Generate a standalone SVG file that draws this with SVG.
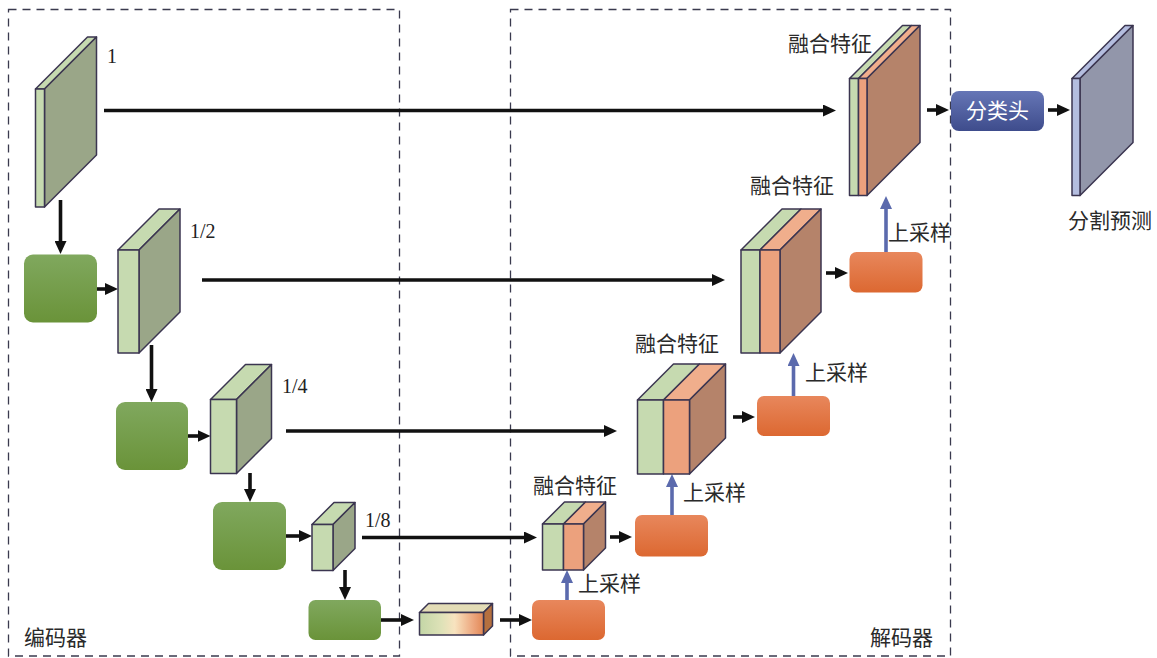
<svg xmlns="http://www.w3.org/2000/svg" width="1157" height="658" viewBox="0 0 1157 658">
<style>
.dash{fill:none;stroke:#3a3a4e;stroke-width:1.3;stroke-dasharray:8 6}
.e{stroke:#3b3550;stroke-width:1.5;stroke-linejoin:round}
.gf{fill:#c6dab0}
.gs{fill:#9aa688}
.of{fill:#eca17d}
.ot{fill:#f0ae8c}
.bs{fill:#b5836a}
.gb{fill:url(#gGreen)}
.ob{fill:url(#gOrange)}
.num{font-family:"Liberation Serif",serif;font-size:20px;fill:#222}
.zh{font-family:"Liberation Serif","Noto Sans CJK SC",serif;font-size:21px;fill:#2a2a2a}
.ar{fill:none;stroke:#111;stroke-width:3.6;marker-end:url(#ah)}
.au{fill:none;stroke:#5b6aad;stroke-width:3.6;marker-end:url(#ahb)}
</style>
<defs>
<linearGradient id="gGreen" x1="0" y1="0" x2="0" y2="1"><stop offset="0" stop-color="#80a85e"/><stop offset="1" stop-color="#6a9339"/></linearGradient>
<linearGradient id="gOrange" x1="0" y1="0" x2="0" y2="1"><stop offset="0" stop-color="#e8875c"/><stop offset="1" stop-color="#dc6831"/></linearGradient>
<linearGradient id="gBlue" x1="0" y1="0" x2="0" y2="1"><stop offset="0" stop-color="#6676b6"/><stop offset="1" stop-color="#3e4c8c"/></linearGradient>
<linearGradient id="gBott" x1="0" y1="0" x2="1" y2="0"><stop offset="0" stop-color="#c3d6a6"/><stop offset="0.35" stop-color="#dfe2b8"/><stop offset="0.55" stop-color="#f8e3bf"/><stop offset="0.85" stop-color="#eca47b"/><stop offset="1" stop-color="#e28856"/></linearGradient>
<marker id="ah" viewBox="0 0 13 12" refX="5" refY="6" markerWidth="13" markerHeight="12" markerUnits="userSpaceOnUse" orient="auto"><path d="M0,0 L13,6 L0,12 z" fill="#111"/></marker>
<marker id="ahb" viewBox="0 0 13 12" refX="5" refY="6" markerWidth="13" markerHeight="12" markerUnits="userSpaceOnUse" orient="auto"><path d="M0,0 L13,6 L0,12 z" fill="#5b6aad"/></marker>
</defs>
<rect width="1157" height="658" fill="#fff"/>
<g id="encoder-box"><rect class="dash" x="8.5" y="9.5" width="391" height="646.5"/><text class="zh" x="24" y="645">编码器</text></g>
<g id="decoder-box"><rect class="dash" x="510.5" y="9.5" width="440" height="646.5"/><text class="zh" x="870" y="645">解码器</text></g>
<g id="connectors">
<path class="ar" d="M104,110.5 H828"/>
<path class="ar" d="M60.5,200 V246"/>
<path class="ar" d="M97,289 H110"/>
<path class="ar" d="M202,280 H717"/>
<path class="ar" d="M151.5,345 V394"/>
<path class="ar" d="M188,436 H202.5"/>
<path class="ar" d="M286,431 H609"/>
<path class="ar" d="M250,473 V494"/>
<path class="ar" d="M286,536 H304"/>
<path class="ar" d="M362,537.5 H529"/>
<path class="ar" d="M345,570 V592"/>
<path class="ar" d="M381,620 H406"/>
<path class="ar" d="M500,620 H524"/>
<path class="ar" d="M610,537 H624"/>
<path class="ar" d="M733,417 H747"/>
<path class="ar" d="M826,273 H840"/>
<path class="ar" d="M927,110 H941"/>
<path class="ar" d="M1048,110 H1062"/>
<path class="au" d="M567,600 V578"/>
<path class="au" d="M672,515 V482"/>
<path class="au" d="M793.5,396 V361"/>
<path class="au" d="M886,252 V204"/>
</g>
<g id="map-1">
<polygon class="e gf" points="35.5,89 87.5,37 96.5,37 44.5,89"/>
<polygon class="e gs" points="44.5,89 96.5,37 96.5,155 44.5,207"/>
<rect class="e gf" x="35.5" y="89" width="9" height="118"/>
<text class="num" x="107" y="63">1</text>
</g>
<g id="map-1-2">
<polygon class="e gf" points="118,250 159,209 180,209 139,250"/>
<polygon class="e gs" points="139,250 180,209 180,312 139,353"/>
<rect class="e gf" x="118" y="250" width="21" height="103"/>
<text class="num" x="190" y="238">1/2</text>
</g>
<g id="map-1-4">
<polygon class="e gf" points="210.5,399.5 245.5,364.5 271.5,364.5 236.5,399.5"/>
<polygon class="e gs" points="236.5,399.5 271.5,364.5 271.5,438.5 236.5,473.5"/>
<rect class="e gf" x="210.5" y="399.5" width="26" height="74"/>
<text class="num" x="282" y="393">1/4</text>
</g>
<g id="map-1-8">
<polygon class="e gf" points="312,524.5 334,502.5 355,502.5 333,524.5"/>
<polygon class="e gs" points="333,524.5 355,502.5 355,548.5 333,570.5"/>
<rect class="e gf" x="312" y="524.5" width="21" height="46"/>
<text class="num" x="365" y="527">1/8</text>
</g>
<g id="enc-block-1"><rect class="gb" x="24" y="254.5" width="73" height="68" rx="9"/></g>
<g id="enc-block-2"><rect class="gb" x="116" y="402" width="72" height="68" rx="9"/></g>
<g id="enc-block-3"><rect class="gb" x="213" y="502" width="73" height="68" rx="9"/></g>
<g id="enc-block-4"><rect class="gb" x="308.5" y="600" width="72.5" height="40" rx="7"/></g>
<g id="bottleneck">
<polygon class="e" fill="#e3dcb6" points="419.5,612.5 428.5,603.5 492.5,603.5 483.5,612.5"/>
<polygon class="e" fill="#b5703f" points="483.5,612.5 492.5,603.5 492.5,626 483.5,635"/>
<rect class="e" fill="url(#gBott)" x="419.5" y="612.5" width="64" height="22.5"/>
</g>
<g id="up-block-1"><rect class="ob" x="532" y="600" width="73" height="40" rx="7"/><text class="zh" x="578" y="591">上采样</text></g>
<g id="up-block-2"><rect class="ob" x="635" y="515" width="73" height="41.5" rx="7"/><text class="zh" x="683" y="500">上采样</text></g>
<g id="up-block-3"><rect class="ob" x="757" y="396" width="73" height="40" rx="7"/><text class="zh" x="805" y="380">上采样</text></g>
<g id="up-block-4"><rect class="ob" x="849.5" y="252" width="73" height="40.5" rx="7"/><text class="zh" x="888" y="240">上采样</text></g>
<g id="fused-1-8">
<polygon class="e gf" points="542.5,524 564.5,502 585.5,502 563.5,524"/>
<polygon class="e ot" points="563.5,524 585.5,502 605.5,502 583.5,524"/>
<polygon class="e bs" points="583.5,524 605.5,502 605.5,548 583.5,570"/>
<rect class="e gf" x="542.5" y="524" width="21" height="46"/>
<rect class="e of" x="563.5" y="524" width="20" height="46"/>
<text class="zh" x="533" y="493">融合特征</text>
</g>
<g id="fused-1-4">
<polygon class="e gf" points="637.5,400 673.5,364 699.5,364 663.5,400"/>
<polygon class="e ot" points="663.5,400 699.5,364 725.5,364 689.5,400"/>
<polygon class="e bs" points="689.5,400 725.5,364 725.5,438 689.5,474"/>
<rect class="e gf" x="637.5" y="400" width="26" height="74"/>
<rect class="e of" x="663.5" y="400" width="26" height="74"/>
<text class="zh" x="635" y="351">融合特征</text>
</g>
<g id="fused-1-2">
<polygon class="e gf" points="741,250 782,209 801,209 760,250"/>
<polygon class="e ot" points="760,250 801,209 821,209 780,250"/>
<polygon class="e bs" points="780,250 821,209 821,312 780,353"/>
<rect class="e gf" x="741" y="250" width="19" height="103"/>
<rect class="e of" x="760" y="250" width="20" height="103"/>
<text class="zh" x="750" y="193">融合特征</text>
</g>
<g id="fused-1">
<polygon class="e gf" points="849.5,78.5 902.5,25.5 911.5,25.5 858.5,78.5"/>
<polygon class="e ot" points="858.5,78.5 911.5,25.5 920,25.5 867,78.5"/>
<polygon class="e bs" points="867,78.5 920,25.5 920,142.5 867,195.5"/>
<rect class="e gf" x="849.5" y="78.5" width="9" height="117"/>
<rect class="e of" x="858.5" y="78.5" width="8.5" height="117"/>
<text class="zh" x="788" y="51">融合特征</text>
</g>
<g id="seg-head">
<rect fill="url(#gBlue)" x="951" y="91" width="93" height="40" rx="8"/>
<text class="zh" x="997.5" y="118" text-anchor="middle" style="fill:#fff">分类头</text>
</g>
<g id="output">
<polygon class="e" fill="#b4bddf" points="1072,78.5 1125,25.5 1133,25.5 1080,78.5"/>
<polygon class="e" fill="#9296aa" points="1080,78.5 1133,25.5 1133,142.5 1080,195.5"/>
<rect class="e" fill="#b4bddf" x="1072" y="78.5" width="8" height="117"/>
<text class="zh" x="1068" y="228">分割预测</text>
</g>
</svg>
